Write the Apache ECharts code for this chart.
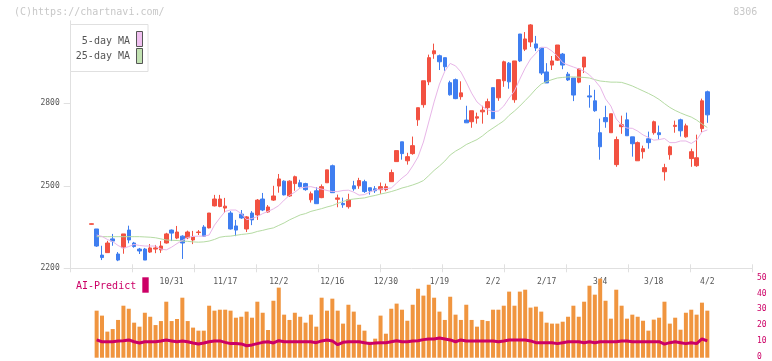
<!DOCTYPE html>
<html><head><meta charset="utf-8">
<script src="https://cdn.jsdelivr.net/npm/echarts@6/dist/echarts.min.js"></script>
<style>html,body{margin:0;padding:0;background:#fff}#c{width:772px;height:361px}</style>
</head><body><div id="c"></div>
<script>
const dates = ["10/9","10/10","10/14","10/15","10/16","10/17","10/20","10/21","10/22","10/23",
"10/24","10/27","10/28","10/29","10/30","10/31","11/4","11/5","11/6","11/7",
"11/10","11/11","11/12","11/13","11/14","11/17","11/18","11/19","11/20","11/21",
"11/25","11/26","11/27","11/28","12/1","12/2","12/3","12/4","12/5","12/8",
"12/9","12/10","12/11","12/12","12/15","12/16","12/17","12/18","12/19","12/22",
"12/23","12/24","12/25","12/26","12/29","12/30","1/5","1/6","1/7","1/8",
"1/9","1/13","1/14","1/15","1/16","1/19","1/20","1/21","1/22","1/23",
"1/26","1/27","1/28","1/29","1/30","2/2","2/3","2/4","2/5","2/6",
"2/9","2/10","2/12","2/13","2/16","2/17","2/18","2/19","2/20","2/24",
"2/25","2/26","2/27","3/2","3/3","3/4","3/5","3/6","3/9","3/10",
"3/11","3/12","3/13","3/16","3/17","3/18","3/19","3/23","3/24","3/25",
"3/26","3/27","3/30","3/31","4/1","4/2"];

const opens = [2360,2343,2248,2257,2307,2252,2275,2339,2292,2270,
2270,2259,2270,2267,2292,2339,2310,2317,2311,2303,
2330,2350,2347,2427,2425,2419,2401,2354,2397,2343,
2401,2394,2452,2405,2448,2499,2517,2463,2508,2511,
2508,2449,2482,2457,2511,2573,2451,2436,2424,2500,
2500,2515,2493,2489,2486,2486,2515,2588,2660,2591,
2617,2740,2795,2878,2980,2973,2966,2875,2886,2824,
2739,2733,2746,2769,2784,2857,2820,2882,2946,2813,
3052,2997,3023,3016,3001,2914,2939,2957,2979,2906,
2892,2877,2932,2827,2809,2693,2748,2693,2577,2715,
2740,2678,2591,2624,2671,2693,2693,2551,2613,2716,
2740,2678,2599,2573,2708,2842];

const closes = [2362,2281,2239,2292,2299,2230,2325,2303,2279,2263,
2230,2274,2274,2281,2325,2328,2332,2292,2332,2314,
2332,2317,2401,2452,2452,2426,2343,2339,2383,2387,
2376,2448,2412,2423,2463,2525,2467,2517,2533,2497,
2486,2471,2435,2497,2558,2475,2456,2431,2449,2489,
2519,2479,2482,2482,2497,2497,2548,2628,2617,2606,
2646,2784,2882,2966,2991,2951,2933,2831,2817,2838,
2729,2773,2751,2775,2806,2744,2886,2951,2878,2954,
2954,3034,3085,3001,2910,2874,2954,3012,2939,2885,
2830,2925,2968,2823,2773,2642,2733,2762,2668,2722,
2682,2653,2657,2635,2657,2733,2686,2566,2642,2720,
2700,2718,2624,2602,2809,2758];

const lows = [2359,2278,2230,2257,2282,2226,2253,2291,2275,2252,
2230,2256,2255,2256,2290,2299,2306,2234,2306,2288,
2321,2315,2345,2425,2422,2401,2341,2317,2380,2332,
2357,2376,2408,2402,2445,2475,2465,2460,2482,2494,
2482,2439,2435,2455,2511,2475,2422,2420,2417,2482,
2489,2474,2468,2474,2471,2480,2515,2588,2595,2577,
2613,2718,2784,2866,2962,2921,2918,2828,2815,2813,
2729,2711,2726,2726,2758,2744,2809,2860,2853,2802,
2950,2990,3005,2990,2903,2874,2921,2954,2924,2881,
2808,2873,2910,2784,2769,2595,2711,2693,2569,2689,
2682,2606,2591,2599,2635,2686,2668,2519,2595,2693,
2679,2675,2569,2569,2695,2729];

const highs = [2363,2343,2282,2300,2325,2259,2325,2355,2296,2274,
2274,2288,2285,2299,2329,2341,2354,2320,2337,2336,
2339,2357,2401,2467,2467,2456,2408,2376,2412,2390,
2408,2452,2474,2430,2500,2543,2520,2520,2537,2522,
2511,2479,2495,2505,2558,2577,2468,2457,2471,2518,
2529,2522,2493,2499,2512,2508,2559,2628,2660,2620,
2679,2784,2882,2977,3017,2977,2966,2882,2890,2880,
2791,2773,2766,2791,2817,2857,2886,2955,2950,2954,
3052,3059,3088,3045,3001,2946,2972,3012,2983,2914,
2892,2928,2968,2866,2849,2744,2791,2762,2679,2755,
2766,2678,2661,2646,2697,2737,2719,2580,2646,2737,
2744,2726,2635,2686,2817,2846];

const ma5 = [null,2321,2316,2305,2297,2283,2273,2279,2287,2283,
2281,2281,2281,2270,2267,2277,2290,2301,2312,2316,
2317,2317,2321,2357,2383,2407,2412,2412,2399,2377,
2381,2388,2399,2407,2416,2428,2448,2465,2477,2492,
2495,2497,2492,2488,2483,2479,2479,2483,2484,2477,
2466,2468,2477,2485,2488,2490,2492,2510,2528,2543,
2572,2605,2659,2732,2805,2870,2917,2945,2936,2914,
2877,2837,2805,2788,2776,2770,2772,2790,2819,2845,
2888,2928,2961,2982,3004,3003,2990,2972,2948,2939,
2932,2925,2917,2903,2883,2859,2816,2790,2743,2721,
2710,2709,2699,2685,2676,2666,2668,2672,2657,2657,
2663,2663,2654,2666,2696,2703];

const ma25 = [null,2315,2315,2315,2315,2315,2315,2315,2315,2315,
2314,2313,2311,2307,2303,2302,2301,2299,2298,2296,
2295,2296,2299,2305,2313,2316,2317,2320,2323,2325,
2328,2334,2338,2343,2347,2356,2365,2376,2385,2394,
2399,2407,2412,2417,2423,2428,2436,2443,2449,2452,
2454,2456,2461,2465,2470,2474,2479,2485,2492,2497,
2503,2510,2519,2537,2556,2572,2590,2612,2626,2637,
2650,2659,2668,2681,2697,2710,2723,2736,2756,2772,
2790,2810,2830,2852,2870,2879,2886,2892,2894,2896,
2896,2895,2894,2892,2886,2881,2879,2877,2877,2876,
2870,2863,2854,2845,2836,2826,2814,2799,2785,2774,
2765,2757,2750,2739,2725,2712];

const volume = [null,29.4,26.3,16.3,17.9,23.6,32.5,30.6,21.9,19.4,
28.1,25.6,20.4,22.9,35,22.9,24.2,37.5,22.9,18.8,
16.9,16.9,32.5,29.4,30,30,29.4,25,25.6,28.8,
25,35,28.1,17.3,35.6,43.8,26.9,23.6,28.1,25.6,
21.9,26.9,19.4,37.5,29.4,36.9,29.4,21.3,33.1,28.8,
20.6,16.9,10,11.9,26.3,15,30.6,33.8,30,23.1,
33.1,43.1,38.8,45.6,37.5,28.8,23.6,38.1,26.9,23.6,
33.1,23.6,19.4,23.6,22.9,30,30,32.5,41.3,32.5,
41.3,42.5,31.3,31.9,28.8,21.9,21.3,21.3,22.5,25.6,
32.5,25.6,35,45,39.4,49.4,35.6,24.4,42.5,32.5,
24.4,26.9,25.6,23.1,16.9,23.8,25,35,21.3,25,
17.5,28.1,30,26.9,34.4,29.4];

const aiPredict = [null,11.1,10,10,10,10.4,10.6,11.1,10,9.2,
10,10,10,10.4,11,10.5,10,10.5,10,9.2,
8.6,9.2,10,10.5,10.5,9.6,8.8,8.8,8.6,7.5,
8,8.8,9.6,10,9.2,10.6,10,10,10,10,
10,10,9.4,10.5,11,10.5,8.1,9.6,10,10,
10,9.4,8.8,9.2,9.4,9.4,10,10.6,10,10,
10.4,10.6,11.3,11.7,11.7,12.3,11.7,11.1,10,11.1,
10.5,10.5,10.5,10.5,10.5,10.5,10,10.5,11.1,11.1,
11.1,11.1,10.5,9.4,9.4,9.4,9.4,8.8,9.4,10,
10,10,9.4,10,9.4,10,10,10,10,10.5,
10.5,10,10,10,10,10,10,8.5,9.4,10,
9.4,8.8,9.4,8.8,11.7,10.5];

const priceTicks = [2200, 2500, 2800];
const volTicks = [0, 10, 20, 30, 40, 50];

const RED = '#f25141', BLUE = '#3f7ef0', AXIS = '#e0e0e0', MAGENTA = '#cc0066';
const mono = '"DejaVu Sans Mono", monospace';
const candleData = dates.map((d, i) => [opens[i], closes[i], lows[i], highs[i]]);

const chart = echarts.init(document.getElementById('c'), null, {renderer: 'canvas'});
const gCandle = {left: 88.6, right: 62.0, top: 20.8, bottom: 92.7};
const gAxis = {left: 70.7, right: 19.7, top: 20.8, bottom: 92.7};
const gVol = {left: 88.6, right: 62.0, top: 277.7, bottom: 3.3};
const gVolAxis = {left: 70.7, right: 19.7, top: 277.7, bottom: 3.3};

chart.setOption({
  animation: false,
  backgroundColor: '#fff',
  grid: [gCandle, gAxis, Object.assign({}, gAxis), gVol, gVolAxis],
  xAxis: [
    {gridIndex: 0, type: 'category', data: dates, boundaryGap: true,
     axisLine: {show: false}, axisTick: {show: false}, splitLine: {show: false},
     axisLabel: {interval: (i) => i >= 15 && (i - 15) % 10 === 0, margin: 10,
                 fontFamily: mono, fontSize: 8, color: '#555'}},
    {gridIndex: 1, type: 'value', min: 0, max: 11, interval: 1,
     axisLine: {show: true, lineStyle: {color: AXIS, width: 1}},
     axisTick: {show: true, length: 4, lineStyle: {color: AXIS}},
     axisLabel: {show: false}, splitLine: {show: false}},
    {gridIndex: 2, type: 'value', min: 0, max: 11, interval: 1,
     axisLine: {show: false},
     axisTick: {show: true, inside: true, length: 4, lineStyle: {color: AXIS}},
     axisLabel: {show: false}, splitLine: {show: false}},
    {gridIndex: 3, type: 'category', data: dates, boundaryGap: true, show: false},
    {gridIndex: 4, type: 'value', min: 0, max: 1, show: false}
  ],
  yAxis: [
    {gridIndex: 0, type: 'value', min: 2200, max: 3100, show: false, splitLine: {show: false}},
    {gridIndex: 1, type: 'value', min: 2200, max: 3100, interval: 300,
     axisLine: {show: true, lineStyle: {color: AXIS, width: 1}},
     axisTick: {show: true, length: 7, lineStyle: {color: AXIS}, customValues: priceTicks},
     axisLabel: {customValues: priceTicks, margin: 11, fontFamily: mono, fontSize: 8, color: '#555',
                 formatter: (v) => String(v)},
     splitLine: {show: false}},
    {gridIndex: 2, type: 'value', min: 2200, max: 3100, show: false, splitLine: {show: false}},
    {gridIndex: 3, type: 'value', min: 0, max: 50, show: false, splitLine: {show: false}},
    {gridIndex: 4, type: 'value', min: 0, max: 50, interval: 10, position: 'right',
     axisLine: {show: false}, axisTick: {show: false}, splitLine: {show: false},
     axisLabel: {customValues: volTicks, margin: 4.7, fontFamily: mono, fontSize: 8, color: MAGENTA,
                 formatter: (v) => String(v)}}
  ],
  series: [
    {type: 'candlestick', xAxisIndex: 0, yAxisIndex: 0, data: candleData, barWidth: 4,
     itemStyle: {color: RED, color0: BLUE, borderColor: RED, borderColor0: BLUE, borderWidth: 1}},
    {type: 'line', xAxisIndex: 0, yAxisIndex: 0, data: ma25, symbol: 'none',
     lineStyle: {color: '#b5dba3', width: 1}, z: 3},
    {type: 'line', xAxisIndex: 0, yAxisIndex: 0, data: ma5, symbol: 'none',
     lineStyle: {color: '#e8b6e8', width: 1}, z: 3},
    {type: 'bar', xAxisIndex: 3, yAxisIndex: 3, data: volume, barWidth: 4,
     itemStyle: {color: '#f0953f'}},
    {type: 'line', xAxisIndex: 3, yAxisIndex: 3, data: aiPredict, symbol: 'none',
     lineStyle: {color: MAGENTA, width: 3}, z: 4}
  ],
  graphic: [
    {type: 'text', x: 14, y: 12.5, z: 100,
     style: {text: '(C)https://chartnavi.com/', font: '10px ' + mono, fill: '#c8c8c8',
             align: 'left', verticalAlign: 'middle', textAlign: 'left', textVerticalAlign: 'middle'}},
    {type: 'text', x: 757.3, y: 12.5, z: 100,
     style: {text: '8306', font: '10px ' + mono, fill: '#c8c8c8',
             align: 'right', verticalAlign: 'middle', textAlign: 'right', textVerticalAlign: 'middle'}},
    {type: 'rect', z: 100, shape: {x: 70.5, y: 24.5, width: 77.5, height: 47},
     style: {fill: '#fff', stroke: AXIS, lineWidth: 1}},
    {type: 'text', x: 130, y: 41.5, z: 101,
     style: {text: '5-day MA', font: '10px ' + mono, fill: '#555',
             align: 'right', verticalAlign: 'middle', textAlign: 'right', textVerticalAlign: 'middle'}},
    {type: 'text', x: 130, y: 56.8, z: 101,
     style: {text: '25-day MA', font: '10px ' + mono, fill: '#555',
             align: 'right', verticalAlign: 'middle', textAlign: 'right', textVerticalAlign: 'middle'}},
    {type: 'rect', z: 101, shape: {x: 136.5, y: 31.5, width: 6, height: 15},
     style: {fill: '#f0c0f0', stroke: '#555', lineWidth: 1}},
    {type: 'rect', z: 101, shape: {x: 136.5, y: 48.5, width: 6, height: 15},
     style: {fill: '#c2e2b2', stroke: '#555', lineWidth: 1}},
    {type: 'text', x: 76, y: 286, z: 100,
     style: {text: 'AI-Predict', font: '10px ' + mono, fill: MAGENTA,
             align: 'left', verticalAlign: 'middle', textAlign: 'left', textVerticalAlign: 'middle'}},
    {type: 'rect', z: 100, shape: {x: 142.3, y: 277.3, width: 6.4, height: 15.4},
     style: {fill: MAGENTA}}
  ]
});
</script>
</body></html>
